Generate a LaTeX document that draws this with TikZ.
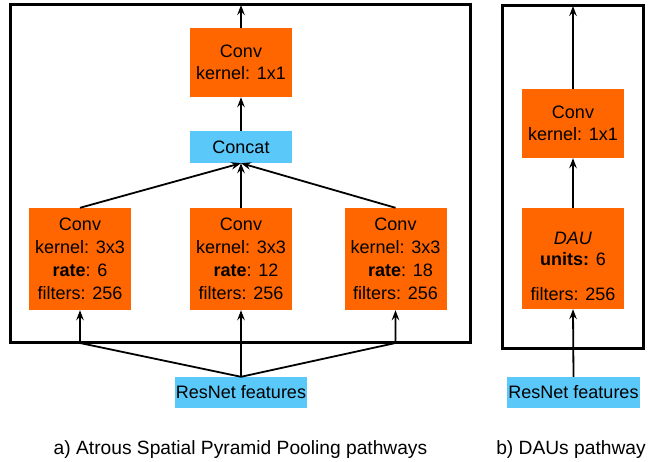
\documentclass[tikz,border=0pt]{standalone}
\usepackage{fontspec}
\setmainfont{Liberation Sans}
\usetikzlibrary{arrows.meta}
\definecolor{convorange}{RGB}{255,102,0}
\definecolor{featblue}{RGB}{91,200,250}
\begin{document}
\begin{tikzpicture}[x=1pt,y=-1pt,
  box/.style={minimum width=102pt, inner sep=0pt, align=center,
              font=\fontsize{18}{22}\selectfont},
  convbox/.style={box, fill=convorange},
  featbox/.style={box, fill=featblue},
  frame/.style={draw=black, line width=3pt},
  flow/.style={draw=black, line width=1.8pt, -{Stealth[length=10pt,width=7.5pt,inset=3.5pt]}},
  caption/.style={font=\fontsize{19.2}{22}\selectfont}]
\useasboundingbox (0,0) rectangle (654,462);

% frames
\draw[frame] (10,5) rectangle (470,343);
\draw[frame] (502,6) rectangle (643,349);

% left pathway
\node[convbox, minimum height=69pt] (topconv) at (241,62.5) {Conv\\kernel: 1x1};
\node[featbox, minimum height=32pt] (concat) at (241,147) {Concat};
\node[convbox, minimum width=102pt, minimum height=102pt, font=\fontsize{18}{23}\selectfont] (c1) at (80,259)
  {Conv\\kernel: 3x3\\\textbf{rate}: 6\\filters: 256};
\node[convbox, minimum width=102pt, minimum height=102pt, font=\fontsize{18}{23}\selectfont] (c2) at (241,259)
  {Conv\\kernel: 3x3\\\hspace*{10pt}\textbf{rate}: 12\\filters: 256};
\node[convbox, minimum width=102pt, minimum height=102pt, font=\fontsize{18}{23}\selectfont] (c3) at (395.5,259)
  {Conv\\kernel: 3x3\\\hspace*{10pt}\textbf{rate}: 18\\filters: 256};
\node[featbox, minimum width=132pt, minimum height=31pt] (resA) at (241,392.5) {ResNet features};

\coordinate (outA) at (241,5);
\coordinate (jl) at (80,343);
\coordinate (jr) at (395.5,343);

\draw[flow] (topconv.north) -- (outA);
\draw[flow] (concat.north) -- (topconv.south);
\draw[flow] (c1.north) -- (concat.south);
\draw[flow] (c2.north) -- (concat.south);
\draw[flow] (c3.north) -- (concat.south);
\draw[flow] (resA.north) -- (jl) -- (c1.south);
\draw[flow] (resA.north) -- (c2.south);
\draw[flow] (resA.north) -- (jr) -- (c3.south);

% right pathway
\node[convbox, minimum height=69pt] (conv2) at (573,123.5) {Conv\\kernel: 1x1};
\node[convbox, minimum height=101pt] (dau) at (573,258.5) {};
\node[align=center, inner sep=0pt, font=\fontsize{18}{21}\selectfont] (dautext) at (573,266)
  {\textit{DAU}\\\textbf{units:} 6\\[14pt]filters: 256};
\node[featbox, minimum width=133pt, minimum height=31pt] (resB) at (573.5,392.5) {ResNet features};
\coordinate (outB) at (573,6);

\draw[flow] (resB.north) -- (dau.south);
\draw[flow] (dau.north) -- (conv2.south);
\draw[flow] (conv2.north) -- (outB);

% captions
\node[caption] (capa) at (240.5,450) {a) Atrous Spatial Pyramid Pooling pathways};
\node[caption] (capb) at (571,450) {b) DAUs pathway};
\end{tikzpicture}
\end{document}
